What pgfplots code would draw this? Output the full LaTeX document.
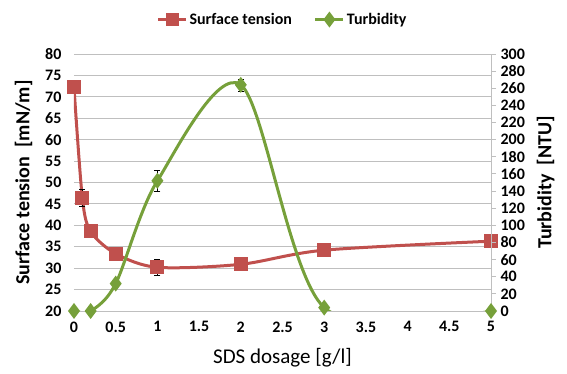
\documentclass[border=0pt]{standalone}
\usepackage{fontspec}
\setmainfont{Carlito}
\usepackage{pgfplots}
\pgfplotsset{compat=1.18}

\definecolor{stred}{HTML}{C0504D}
\definecolor{turbgreen}{HTML}{76A03A}
\definecolor{gridgray}{HTML}{BFBFBF}

\pgfplotsset{
  common/.style={
    scale only axis,
    width=417pt, height=257pt,
    xmin=0, xmax=5,
    /pgf/number format/assume math mode=true,
    ticklabel style={font=\bfseries\fontsize{16}{16}\selectfont},
    label style={font=\bfseries\fontsize{20}{20}\selectfont},
  }
}

\begin{document}
\begin{tikzpicture}
\useasboundingbox (-74pt,-63pt) rectangle (493pt,311pt);

% left axis: surface tension
\begin{axis}[common,
  ymin=20, ymax=80, ytick={20,25,...,80},
  xtick={0,0.5,...,5},
  xticklabels={0,0.5,1,1.5,2,2.5,3,3.5,4,4.5,5},
  xticklabel style={yshift=-7pt},
  yticklabel style={xshift=-9pt},
  axis line style={draw=none},
  major tick length=0pt,
  ymajorgrids,
  grid style={gridgray, line width=0.9pt},
  ylabel={Surface tension\ \ [mN/m]},
  ylabel style={yshift=6pt},
  xlabel={SDS dosage [g/l]},
  xlabel style={font=\fontsize{21}{21}\selectfont, yshift=-9pt},
]
\addplot[stred, line width=3pt, smooth, mark=square*, mark size=5.5pt,
  mark options={solid},
  error bars/.cd, y dir=both, y explicit,
  error bar style={black, line width=0.6pt},
  error mark options={black, rotate=90, mark size=3pt, line width=0.6pt}]
coordinates {
  (0,72.2)
  (0.1,46.4) +- (0,2.0)
  (0.2,38.6) +- (0,1.5)
  (0.5,33.4)
  (1,30.2) +- (0,1.8)
  (2,30.9)
  (3,34.2)
  (5,36.3)
};
\end{axis}

% right axis: turbidity
\begin{axis}[common,
  ymin=0, ymax=300, ytick={0,20,...,300},
  axis x line=none,
  axis y line*=right,
  axis line style={gridgray, line width=0.9pt},
  ytick style={gridgray, line width=0.9pt},
  tick align=outside,
  major tick length=5pt,
  yticklabel style={xshift=1pt},
  ylabel={Turbidity\ \ [NTU]},
  ylabel style={yshift=-5pt},
  legend style={at={(0.5,1.0)}, yshift=45pt, anchor=north, draw=none,
    legend columns=2, font=\bfseries\fontsize{16}{16}\selectfont,
    /tikz/every even column/.append style={column sep=20pt}},
  legend image code/.code={
    \draw[#1] (0pt,0pt) -- (28pt,0pt);
    \draw[#1, mark repeat=1] plot coordinates {(14pt,0pt)};
  },
]
\addlegendimage{stred, line width=3pt, mark=square*, mark size=5pt}
\addlegendentry{Surface tension}
\addplot[turbgreen, line width=3pt, smooth, mark=diamond*, mark size=5.5pt,
  error bars/.cd, y dir=both, y explicit,
  error bar style={black, line width=0.6pt},
  error mark options={black, rotate=90, mark size=3pt, line width=0.6pt}]
coordinates {
  (0,0)
  (0.2,0)
  (0.5,32)
  (1,152) +- (0,12)
  (2,264) +- (0,7)
  (3,4)
  (5,0)
};
\addlegendentry{Turbidity}
\end{axis}
\end{tikzpicture}
\end{document}
